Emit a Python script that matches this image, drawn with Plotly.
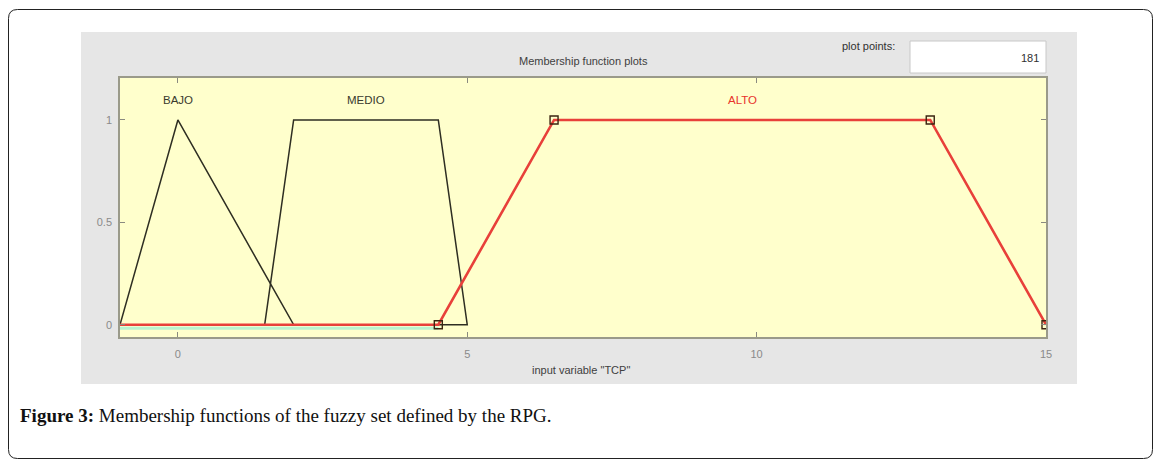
import plotly.graph_objects as go

# Membership function definitions for input variable "TCP"
bajo_x = [-1, 0, 2, -1]
bajo_y = [0, 1, 0, 0]
medio_x = [1.5, 2, 4.5, 5, 1.5]
medio_y = [0, 1, 1, 0, 0]
alto_x = [-1, 4.5, 6.5, 13, 15]
alto_y = [0, 0, 1, 1, 0]
alto_vertex_x = [4.5, 6.5, 13, 15]
alto_vertex_y = [0, 1, 1, 0]

mf_names = ["BAJO", "MEDIO", "ALTO"]
mf_label_x = [0, 3.25, 9.75]
mf_label_y = [1.1, 1.1, 1.1]
mf_label_colors = ["#3a3a2e", "#3a3a2e", "#e8332b"]

x_ticks = [0, 5, 10, 15]
y_ticks = [0, 0.5, 1]
y_tick_text = ["0", "0.5", "1"]
plot_points = "181"

W, H = 1159, 464
PL, PR, PT, PB = 120, 1046, 78, 337  # plot area in pixels


def px(x):
    return (x - PL) / (PR - PL)


def py(y):
    return (PB - y) / (PB - PT)


fig = go.Figure()

fig.add_trace(go.Scatter(x=bajo_x, y=bajo_y, mode="lines",
                         line=dict(color="#2e2e22", width=1.5), hoverinfo="skip"))
fig.add_trace(go.Scatter(x=medio_x, y=medio_y, mode="lines",
                         line=dict(color="#2e2e22", width=1.5), hoverinfo="skip"))
fig.add_trace(go.Scatter(x=alto_x, y=alto_y, mode="lines",
                         line=dict(color="#e8403a", width=2.6), hoverinfo="skip"))
fig.add_trace(go.Scatter(x=alto_vertex_x, y=alto_vertex_y, mode="markers",
                         marker=dict(symbol="square-open", size=8, color="#3b2410",
                                     line=dict(width=1.4)), hoverinfo="skip"))

for name, lx, ly, c in zip(mf_names, mf_label_x, mf_label_y, mf_label_colors):
    fig.add_annotation(x=lx, y=ly, text=name, showarrow=False, yanchor="middle",
                       font=dict(family="Liberation Sans", size=11.5, color=c))

# Rounded outer frame
r = 9
x0, y0, x1, y1 = 8.5, 9.5, 1152.5, 458.5
path = (f"M {px(x0 + r)},{py(y0)} L {px(x1 - r)},{py(y0)} "
        f"Q {px(x1)},{py(y0)} {px(x1)},{py(y0 + r)} "
        f"L {px(x1)},{py(y1 - r)} Q {px(x1)},{py(y1)} {px(x1 - r)},{py(y1)} "
        f"L {px(x0 + r)},{py(y1)} Q {px(x0)},{py(y1)} {px(x0)},{py(y1 - r)} "
        f"L {px(x0)},{py(y0 + r)} Q {px(x0)},{py(y0)} {px(x0 + r)},{py(y0)} Z")

shapes = [
    dict(type="path", xref="paper", yref="paper", path=path,
         line=dict(color="#222222", width=1), fillcolor="white", layer="below"),
    # gray figure panel
    dict(type="rect", xref="paper", yref="paper", x0=px(81), x1=px(1077), y0=py(384), y1=py(32),
         line=dict(width=0), fillcolor="#e6e6e6", layer="below"),
    # axes background
    dict(type="rect", xref="paper", yref="paper", x0=0, x1=1, y0=0, y1=1,
         line=dict(width=0), fillcolor="#ffffcc", layer="below"),
    # plot points box
    dict(type="rect", xref="paper", yref="paper", x0=px(910), x1=px(1046), y0=py(73), y1=py(41),
         line=dict(color="#c8c8c8", width=1), fillcolor="white", layer="below"),
    # pale cyan trace just under the zero segment of ALTO
    dict(type="rect", xref="x", yref="y", x0=alto_x[0], x1=alto_x[1],
         ysizemode="pixel", yanchor=alto_y[0], y0=-2, y1=-5,
         line=dict(width=0), fillcolor="#b8f2cf", layer="below"),
]

annotations = [
    dict(x=px(583), y=py(61), text="Membership function plots",
         font=dict(family="Liberation Sans", size=11, color="#404040")),
    dict(x=px(897), y=py(46), text="plot points:", xanchor="right",
         font=dict(family="Liberation Sans", size=11, color="#303030")),
    dict(x=px(1041), y=py(58), text=plot_points, xanchor="right",
         font=dict(family="Liberation Sans", size=11, color="#303030")),
    dict(x=px(581), y=py(370), text='input variable "TCP"',
         font=dict(family="Liberation Sans", size=11, color="#404040")),
    dict(x=px(18), y=py(415), xanchor="left",
         text="<b>Figure 3:</b> Membership functions of the fuzzy set defined by the RPG.",
         font=dict(family="Liberation Serif", size=19, color="#111111")),
]
for a in annotations:
    a.update(xref="paper", yref="paper", showarrow=False, yanchor="middle")
    fig.add_annotation(**a)

fig.update_layout(
    width=W, height=H, autosize=False,
    margin=dict(l=PL, r=W - PR, t=PT, b=H - PB, pad=0),
    paper_bgcolor="white", plot_bgcolor="rgba(0,0,0,0)",
    showlegend=False, shapes=shapes,
)
fig.update_xaxes(range=[-1, 15], tickvals=x_ticks, ticks="inside", ticklen=5,
                 tickcolor="#8a8a80", showline=True, linecolor="#9a9a8a", linewidth=1.5,
                 mirror="allticks", showgrid=False, zeroline=False, ticklabelstandoff=6,
                 tickfont=dict(family="Liberation Sans", size=11, color="#8a8a8a"))
fig.update_yaxes(range=[-0.06, 1.205], tickvals=y_ticks, ticktext=y_tick_text,
                 ticks="inside", ticklen=5, tickcolor="#8a8a80", showline=True,
                 linecolor="#9a9a8a", linewidth=1.5, mirror="allticks", showgrid=False,
                 zeroline=False, ticklabelstandoff=4,
                 tickfont=dict(family="Liberation Sans", size=11, color="#8a8a8a"))

fig.write_html("out.html")
